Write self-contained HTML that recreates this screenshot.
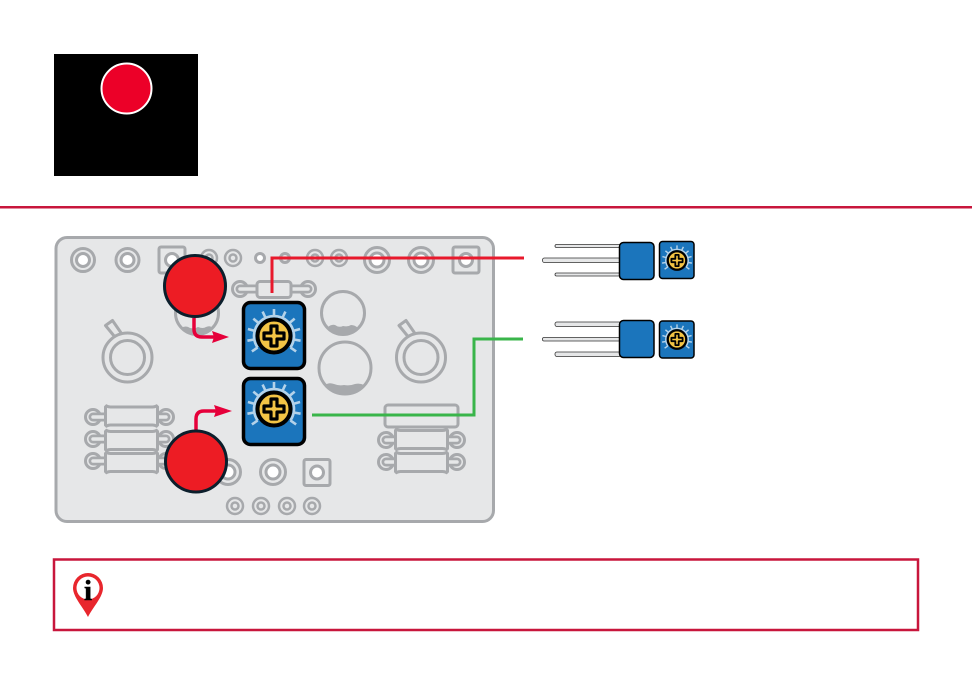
<!DOCTYPE html>
<html><head><meta charset="utf-8"><style>html,body{margin:0;padding:0;background:#fff}svg{display:block}</style></head><body>
<svg width="972" height="684" viewBox="0 0 972 684" xmlns="http://www.w3.org/2000/svg">
<defs>
<g id="jack"><circle r="11.500" fill="none" stroke="#a7a9ac" stroke-width="3"/><circle r="6.500" fill="#fff" stroke="#a7a9ac" stroke-width="3"/></g>
<g id="jackb"><circle r="12.500" fill="none" stroke="#a7a9ac" stroke-width="3"/><circle r="7" fill="#fff" stroke="#a7a9ac" stroke-width="3"/></g>
<g id="sm"><circle r="8" fill="none" stroke="#a7a9ac" stroke-width="2.500"/><circle r="3.500" fill="none" stroke="#a7a9ac" stroke-width="2.500"/></g>
<g id="sq"><rect x="-13" y="-13" width="26" height="26" rx="2" fill="none" stroke="#a7a9ac" stroke-width="3"/><circle r="6.500" fill="#fff" stroke="#a7a9ac" stroke-width="3"/></g>
<g id="res"><path d="M-25-10q2 1 4 1h42q2 0 4-1l1 1v18l-1 1q-2-1-4-1h-42q-2 0-4 1l-1-1v-18z" fill="#e6e7e8" stroke="#a7a9ac" stroke-width="3"/></g>
<g id="ringL"><circle r="7.500" fill="#e6e7e8" stroke="#a7a9ac" stroke-width="3"/><path d="M0 0H17" stroke="#a7a9ac" stroke-width="9" stroke-linecap="round"/><path d="M0 0H18" stroke="#e6e7e8" stroke-width="3.500" stroke-linecap="round"/></g>
<g id="ringR"><circle r="7.500" fill="#e6e7e8" stroke="#a7a9ac" stroke-width="3"/><path d="M0 0H-17" stroke="#a7a9ac" stroke-width="9" stroke-linecap="round"/><path d="M0 0H-18" stroke="#e6e7e8" stroke-width="3.500" stroke-linecap="round"/></g>
<g id="knob"><path d="M-13-21L-22-32-15-37-6-24z" fill="#e6e7e8" stroke="#a7a9ac" stroke-width="3" stroke-linejoin="round"/><circle r="24.500" fill="#e6e7e8" stroke="#a7a9ac" stroke-width="3"/><circle r="17" fill="#e6e7e8" stroke="#a7a9ac" stroke-width="3"/></g>
<line id="tk" x1="0" y1="-20" x2="0" y2="-27" stroke-width="2.600"/>
<g id="dial">
<g stroke="#b4d2e9" fill="none">
<path d="M-16.400 11.500A20 20 0 1 1 16.400 11.500" stroke-width="2.600"/>
<use href="#tk" transform="rotate(-125)"/><use href="#tk" transform="rotate(-100)"/><use href="#tk" transform="rotate(-75)"/><use href="#tk" transform="rotate(-50)"/><use href="#tk" transform="rotate(-25)"/><use href="#tk"/><use href="#tk" transform="rotate(25)"/><use href="#tk" transform="rotate(50)"/><use href="#tk" transform="rotate(75)"/><use href="#tk" transform="rotate(100)"/><use href="#tk" transform="rotate(125)"/>
</g>
<circle r="16.500" fill="#f3c445" stroke="#000" stroke-width="4"/>
<path d="M-3-10h6v7h7v6h-7v7h-6v-7h-7v-6h7z" fill="#f3c445" stroke="#000" stroke-width="3.200" stroke-linejoin="round"/>
</g>
</defs>

<rect width="972" height="684" fill="#fff"/>
<rect x="54" y="54" width="144" height="122" fill="#000"/>
<circle cx="126.500" cy="88.500" r="25" fill="#ec0028" stroke="#fff" stroke-width="2"/>
<rect x="0" y="206" width="972" height="2.500" fill="#c8163c"/>

<!-- board -->
<rect x="56" y="237.500" width="437.500" height="284" rx="11" fill="#e6e7e8" stroke="#a7a9ac" stroke-width="3"/>
<use href="#jack" x="83" y="260"/><use href="#jack" x="127.500" y="260"/><use href="#sq" x="172" y="260"/>
<use href="#sm" x="209" y="258"/><use href="#sm" x="233" y="258"/>
<circle cx="260" cy="258" r="4.500" fill="#fff" stroke="#a7a9ac" stroke-width="3"/>
<circle cx="285" cy="258" r="4.500" fill="none" stroke="#a7a9ac" stroke-width="3"/>
<use href="#sm" x="315" y="258"/><use href="#sm" x="339" y="258"/>
<use href="#jackb" x="377" y="260"/><use href="#jackb" x="421" y="260"/><use href="#sq" x="466" y="260"/>

<use href="#ringL" x="240" y="289"/><use href="#ringR" x="308" y="289"/>
<rect x="257" y="281.500" width="34" height="16" rx="3" fill="#e6e7e8" stroke="#a7a9ac" stroke-width="3"/>

<use href="#knob" x="127.500" y="357.500"/><use href="#knob" x="421" y="357.500"/>

<g fill="#e6e7e8" stroke="#a7a9ac" stroke-width="3">
<circle cx="343" cy="313" r="21.500"/>
<circle cx="345" cy="368" r="26"/>
<circle cx="197" cy="313" r="21.500"/>
</g>
<path d="M327 328q4-4 8-3 4 3 8 1 5 1 8-1 4 0 7 3-6 7-15 7-10 0-16-7z" fill="#a7a9ac"/>
<path d="M325 385q4-3 9-1 5 2 10 1 6 1 11-1 5-1 9 1-7 9-20 9-12 0-19-9z" fill="#a7a9ac"/>
<path d="M181 328q5-3 9 0 5 1 8-1 5 2 8 0 4-2 7 1-5 7-16 7-10 0-16-7z" fill="#a7a9ac"/>

<use href="#ringL" x="93" y="417"/><use href="#ringL" x="93" y="439"/><use href="#ringL" x="93" y="461"/>
<use href="#ringR" x="166" y="417"/><use href="#ringR" x="166" y="439"/><use href="#ringR" x="166" y="461"/>
<use href="#res" x="131.500" y="416"/><use href="#res" x="131.500" y="440.500"/><use href="#res" x="131.500" y="462.500"/>

<rect x="385" y="405" width="73" height="22" rx="3" fill="none" stroke="#a7a9ac" stroke-width="3"/>
<use href="#ringL" x="386" y="440"/><use href="#ringL" x="386" y="462"/>
<use href="#ringR" x="457" y="440"/><use href="#ringR" x="457" y="462"/>
<use href="#res" x="421.500" y="439.500"/><use href="#res" x="421.500" y="462.500"/>

<use href="#jackb" x="228" y="472"/><use href="#jackb" x="273" y="472"/><use href="#sq" x="317" y="472.500"/>
<use href="#sm" x="235" y="506"/><use href="#sm" x="261" y="506"/><use href="#sm" x="287" y="506"/><use href="#sm" x="312" y="506"/>

<!-- blue pots -->
<rect x="243.500" y="302.500" width="61" height="66" rx="7" fill="#1b75bc" stroke="#000" stroke-width="3.500"/>
<use href="#dial" x="274" y="336"/>
<rect x="243.500" y="378.500" width="61" height="66" rx="7" fill="#1b75bc" stroke="#000" stroke-width="3.500"/>
<use href="#dial" x="274" y="409"/>

<!-- connectors -->
<path d="M272 293V258H524" fill="none" stroke="#e8192c" stroke-width="3"/>
<path d="M312 415H474V339H523" fill="none" stroke="#39b54a" stroke-width="3"/>

<!-- red markers -->
<path d="M194 318V329q0 8 8 8H214" fill="none" stroke="#e6003a" stroke-width="3.500"/>
<path d="M229 337L212 331 214 337 212 343z" fill="#e6003a"/>
<path d="M196 431V419q0-8 8-8H216" fill="none" stroke="#e6003a" stroke-width="3.500"/>
<path d="M232 411L214 405 216 411 214 417z" fill="#e6003a"/>
<circle cx="195" cy="286" r="30.500" fill="#ed1c24" stroke="#0c1f2c" stroke-width="3"/>
<circle cx="196" cy="461.500" r="30.500" fill="#ed1c24" stroke="#0c1f2c" stroke-width="3"/>

<!-- side components -->
<g fill="#e6e7e8" stroke="#333" stroke-width=".8">
<rect x="555" y="244.500" width="66" height="3" rx="1.500"/>
<rect x="542.500" y="258" width="78" height="4.500" rx="2"/>
<rect x="555" y="273" width="66" height="3" rx="1.500"/>
<rect x="555" y="322" width="66" height="4.500" rx="2"/>
<rect x="542.500" y="337.500" width="78" height="3.500" rx="1.500"/>
<rect x="555" y="352" width="66" height="4.500" rx="2"/>
</g>
<rect x="619.500" y="242.500" width="34.500" height="37" rx="4" fill="#1b75bc" stroke="#000" stroke-width="1.500"/>
<rect x="619.500" y="320.500" width="34.500" height="37" rx="4" fill="#1b75bc" stroke="#000" stroke-width="1.500"/>
<rect x="659.500" y="241.500" width="34.500" height="37" rx="3" fill="#1b75bc" stroke="#000" stroke-width="1.500"/>
<rect x="659.500" y="321" width="34.500" height="37" rx="3" fill="#1b75bc" stroke="#000" stroke-width="1.500"/>
<use href="#dial" transform="translate(677 260.500) scale(.56)"/>
<use href="#dial" transform="translate(677 339.500) scale(.56)"/>

<!-- info box -->
<rect x="54" y="559.500" width="864" height="70.500" fill="#fff" stroke="#c8163c" stroke-width="2.500"/>
<path d="M73 588a15 15 0 1 1 30 0c0 9-10 19-15 29-5-10-15-20-15-29z" fill="#e8262d"/>
<circle cx="88" cy="588" r="11.500" fill="#fff"/>
<text x="88" y="600" font-family="'Liberation Serif',serif" font-weight="700" font-size="29" text-anchor="middle" fill="#000" stroke="#000" stroke-width=".5">i</text>
</svg>
</body></html>
